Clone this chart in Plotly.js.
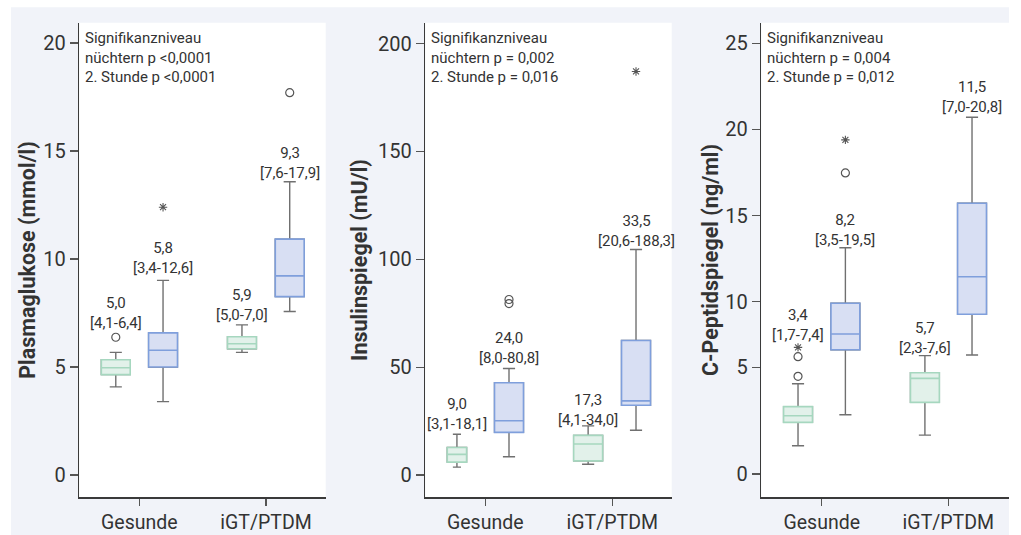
<!DOCTYPE html>
<html>
<head>
<meta charset="utf-8">
<script src="https://cdn.plot.ly/plotly-3.0.1.min.js"></script>
<style>
html, body { margin: 0; padding: 0; background: #ffffff; }
#chart { width: 1021px; height: 535px; }
</style>
</head>
<body>
<div id="chart"></div>
<script>
// ---------- DATA ----------
const categories = ['Gesunde', 'iGT/PTDM'];

// Plasmaglukose (mmol/l) – nüchtern
const glucoseFastingQ1 = [4.65, 5.85];
const glucoseFastingMedian = [4.97, 6.08];
const glucoseFastingQ3 = [5.34, 6.40];
const glucoseFastingLow = [4.08, 5.68];
const glucoseFastingHigh = [5.68, 6.95];
const glucoseFastingCircles = [[6.38], []];
const glucoseFastingStars = [[], []];
// Plasmaglukose – 2. Stunde
const glucose2hQ1 = [5.00, 8.26];
const glucose2hMedian = [5.78, 9.22];
const glucose2hQ3 = [6.58, 10.92];
const glucose2hLow = [3.40, 7.57];
const glucose2hHigh = [9.01, 13.58];
const glucose2hCircles = [[], [17.7]];
const glucose2hStars = [[12.4], []];
// reported median [min-max]
const glucoseFastingRepMedian = [5.0, 5.9];
const glucoseFastingRepMin = [4.1, 5.0];
const glucoseFastingRepMax = [6.4, 7.0];
const glucose2hRepMedian = [5.8, 9.3];
const glucose2hRepMin = [3.4, 7.6];
const glucose2hRepMax = [12.6, 17.9];

// Insulinspiegel (mU/l) – nüchtern
const insulinFastingQ1 = [6.0, 6.6];
const insulinFastingMedian = [9.6, 14.4];
const insulinFastingQ3 = [12.8, 18.4];
const insulinFastingLow = [3.7, 5.0];
const insulinFastingHigh = [18.9, 22.8];
const insulinFastingCircles = [[], []];
const insulinFastingStars = [[], []];
// Insulinspiegel – 2. Stunde
const insulin2hQ1 = [19.8, 32.4];
const insulin2hMedian = [25.2, 34.4];
const insulin2hQ3 = [42.8, 62.4];
const insulin2hLow = [8.5, 20.8];
const insulin2hHigh = [49.4, 104.6];
const insulin2hCircles = [[79.5, 81.4], []];
const insulin2hStars = [[], [187.1]];
const insulinFastingRepMedian = [9.0, 17.3];
const insulinFastingRepMin = [3.1, 4.1];
const insulinFastingRepMax = [18.1, 34.0];
const insulin2hRepMedian = [24.0, 33.5];
const insulin2hRepMin = [8.0, 20.6];
const insulin2hRepMax = [80.8, 188.3];

// C-Peptidspiegel (ng/ml) – nüchtern
const cpepFastingQ1 = [3.00, 4.16];
const cpepFastingMedian = [3.38, 5.55];
const cpepFastingQ3 = [3.91, 5.88];
const cpepFastingLow = [1.64, 2.26];
const cpepFastingHigh = [5.24, 6.87];
const cpepFastingCircles = [[5.67, 6.81], []];
const cpepFastingStars = [[7.35], []];
// C-Peptidspiegel – 2. Stunde
const cpep2hQ1 = [7.21, 9.27];
const cpep2hMedian = [8.13, 11.45];
const cpep2hQ3 = [9.91, 15.71];
const cpep2hLow = [3.44, 6.91];
const cpep2hHigh = [13.13, 20.70];
const cpep2hCircles = [[17.47], []];
const cpep2hStars = [[19.39], []];
const cpepFastingRepMedian = [3.4, 5.7];
const cpepFastingRepMin = [1.7, 2.3];
const cpepFastingRepMax = [7.4, 7.6];
const cpep2hRepMedian = [8.2, 11.5];
const cpep2hRepMin = [3.5, 7.0];
const cpep2hRepMax = [19.5, 20.8];

// Axis tick labels
const glucoseTicks = [0, 5, 10, 15, 20];
const insulinTicks = [0, 50, 100, 150, 200];
const cpepTickText = ['0', '5', '10', '15', '20', '25'];

// Significance texts
const sigGlucose = ['Signifikanzniveau', 'nüchtern p <0,0001', '2. Stunde p <0,0001'];
const sigInsulin = ['Signifikanzniveau', 'nüchtern p = 0,002', '2. Stunde p = 0,016'];
const sigCpep = ['Signifikanzniveau', 'nüchtern p = 0,004', '2. Stunde p = 0,012'];

const yTitles = ['Plasmaglukose (mmol/l)', 'Insulinspiegel (mU/l)', 'C-Peptidspiegel (ng/ml)'];

// ---------- STYLE / PLACEMENT ----------
const FONT = 'Roboto, "Noto Sans", sans-serif';
const TXT = '#333333';
const GREEN_LINE = '#a6d7bf', GREEN_FILL = '#e2f1ea';
const BLUE_LINE = '#7f9fdc', BLUE_FILL = '#d8dff3';
const WHISKER = '#707070';
const OUTLIER = '#555555';

const fmt = v => v.toFixed(1).replace('.', ',');

const panels = [
  {
    n: '', xDomain: [79.3, 325.7], xRange: [-0.474, 1.471], yRange: [-1.03, 20.94],
    tickvals: glucoseTicks, ticktext: glucoseTicks.map(String), sig: sigGlucose, title: yTitles[0],
    fasting: { q1: glucoseFastingQ1, med: glucoseFastingMedian, q3: glucoseFastingQ3, lo: glucoseFastingLow, hi: glucoseFastingHigh,
               circ: glucoseFastingCircles, star: glucoseFastingStars, rm: glucoseFastingRepMedian, rmin: glucoseFastingRepMin, rmax: glucoseFastingRepMax },
    hour: { q1: glucose2hQ1, med: glucose2hMedian, q3: glucose2hQ3, lo: glucose2hLow, hi: glucose2hHigh,
            circ: glucose2hCircles, star: glucose2hStars, rm: glucose2hRepMedian, rmin: glucose2hRepMin, rmax: glucose2hRepMax },
    labelYFasting: [7.50, 7.88], labelYHour: [10.07, 14.46],
    fastOffset: [-0.186, -0.19], fastWidth: [0.228, 0.228], standoff: 2
  },
  {
    n: '2', xDomain: [425.3, 671.7], xRange: [-0.472, 1.468], yRange: [-10.3, 209.7],
    tickvals: insulinTicks, ticktext: insulinTicks.map(String), sig: sigInsulin, title: yTitles[1],
    fasting: { q1: insulinFastingQ1, med: insulinFastingMedian, q3: insulinFastingQ3, lo: insulinFastingLow, hi: insulinFastingHigh,
               circ: insulinFastingCircles, star: insulinFastingStars, rm: insulinFastingRepMedian, rmin: insulinFastingRepMin, rmax: insulinFastingRepMax },
    hour: { q1: insulin2hQ1, med: insulin2hMedian, q3: insulin2hQ3, lo: insulin2hLow, hi: insulin2hHigh,
            circ: insulin2hCircles, star: insulin2hStars, rm: insulin2hRepMedian, rmin: insulin2hRepMin, rmax: insulin2hRepMax },
    labelYFasting: [28.2, 30.3], labelYHour: [58.7, 113.0],
    fastOffset: [-0.223, -0.19], fastWidth: [0.152, 0.228], standoff: 4
  },
  {
    n: '3', xDomain: [761.3, 1009], xRange: [-0.477, 1.479], yRange: [-1.35, 26.19],
    tickvals: [0, 6.19, 10, 15, 20, 25], ticktext: cpepTickText, sig: sigCpep, title: yTitles[2],
    fasting: { q1: cpepFastingQ1, med: cpepFastingMedian, q3: cpepFastingQ3, lo: cpepFastingLow, hi: cpepFastingHigh,
               circ: cpepFastingCircles, star: cpepFastingStars, rm: cpepFastingRepMedian, rmin: cpepFastingRepMin, rmax: cpepFastingRepMax },
    hour: { q1: cpep2hQ1, med: cpep2hMedian, q3: cpep2hQ3, lo: cpep2hLow, hi: cpep2hHigh,
            circ: cpep2hCircles, star: cpep2hStars, rm: cpep2hRepMedian, rmin: cpep2hRepMin, rmax: cpep2hRepMax },
    labelYFasting: [8.63, 7.88], labelYHour: [14.18, 21.86],
    fastOffset: [-0.187, -0.185], fastWidth: [0.228, 0.228], standoff: 1
  }
];

const W = 1021, H = 535;
const yDomainPx = [22.7, 497.3];
const yDomain = [(H - yDomainPx[1]) / H, (H - yDomainPx[0]) / H];

const traces = [];
const annotations = [];
const shapes = [
  { type: 'rect', xref: 'paper', yref: 'paper', x0: 11 / W, x1: 1009 / W, y0: 0, y1: (H - 7.3) / H,
    fillcolor: '#f1f3f9', line: { width: 0 }, layer: 'below' }
];
const layout = {
  width: W, height: H,
  margin: { l: 0, r: 0, t: 0, b: 0, pad: 0 },
  paper_bgcolor: '#ffffff', plot_bgcolor: '#ffffff',
  font: { family: FONT, color: TXT, size: 15 },
  showlegend: false,
  hovermode: false
};

function addBox(p, pos, width, s, i, lineC, fillC) {
  const xa = 'x' + p.n, ya = 'y' + p.n;
  // whiskers (grey)
  traces.push({
    type: 'box', xaxis: xa, yaxis: ya, x: [pos],
    q1: [s.q1[i]], median: [s.med[i]], q3: [s.q3[i]],
    lowerfence: [s.lo[i]], upperfence: [s.hi[i]],
    width: width, whiskerwidth: 0.42, boxpoints: false,
    line: { color: WHISKER, width: 1.4 }, fillcolor: fillC, hoverinfo: 'skip'
  });
  // coloured box with median
  traces.push({
    type: 'box', xaxis: xa, yaxis: ya, x: [pos],
    q1: [s.q1[i]], median: [s.med[i]], q3: [s.q3[i]],
    lowerfence: [s.q1[i]], upperfence: [s.q3[i]],
    width: width, whiskerwidth: 0, boxpoints: false,
    line: { color: lineC, width: 1.6 }, fillcolor: fillC, hoverinfo: 'skip'
  });
  // outliers
  if (s.circ[i].length) {
    traces.push({
      type: 'scatter', mode: 'markers', xaxis: xa, yaxis: ya,
      x: s.circ[i].map(() => pos), y: s.circ[i],
      marker: { symbol: 'circle-open', size: 8, color: OUTLIER, line: { width: 1.2, color: OUTLIER } },
      hoverinfo: 'skip'
    });
  }
  if (s.star[i].length) {
    traces.push({
      type: 'scatter', mode: 'markers', xaxis: xa, yaxis: ya,
      x: s.star[i].map(() => pos), y: s.star[i],
      marker: { symbol: 'asterisk-open', size: 7, color: OUTLIER, line: { width: 1.1, color: OUTLIER } },
      hoverinfo: 'skip'
    });
  }
}

panels.forEach((p, k) => {
  const xa = 'x' + p.n, ya = 'y' + p.n;
  const xKey = 'xaxis' + p.n, yKey = 'yaxis' + p.n;

  categories.forEach((c, i) => {
    const fPos = i + p.fastOffset[i];
    const hPos = i + 0.187;
    addBox(p, fPos, p.fastWidth[i], p.fasting, i, GREEN_LINE, GREEN_FILL);
    addBox(p, hPos, 0.228, p.hour, i, BLUE_LINE, BLUE_FILL);

    annotations.push({
      xref: xa, yref: ya, x: fPos, y: p.labelYFasting[i],
      text: fmt(p.fasting.rm[i]) + '<br>[' + fmt(p.fasting.rmin[i]) + '-' + fmt(p.fasting.rmax[i]) + ']',
      showarrow: false, xanchor: 'center', yanchor: 'middle', align: 'center',
      font: { family: FONT, size: 15, color: TXT }
    });
    annotations.push({
      xref: xa, yref: ya, x: hPos, y: p.labelYHour[i],
      text: fmt(p.hour.rm[i]) + '<br>[' + fmt(p.hour.rmin[i]) + '-' + fmt(p.hour.rmax[i]) + ']',
      showarrow: false, xanchor: 'center', yanchor: 'middle', align: 'center',
      font: { family: FONT, size: 15, color: TXT }
    });
  });

  annotations.push({
    xref: xa + ' domain', yref: ya + ' domain', x: 0, y: 1, xshift: 4, yshift: -4,
    xanchor: 'left', yanchor: 'top', align: 'left', showarrow: false,
    text: p.sig.join('<br>'), font: { family: FONT, size: 15, color: TXT }
  });

  shapes.push({
    type: 'rect', xref: xa + ' domain', yref: ya + ' domain', x0: 0, x1: 1, y0: 0, y1: 1,
    fillcolor: '#ffffff', line: { width: 0 }, layer: 'below'
  });

  layout[xKey] = {
    domain: [p.xDomain[0] / W, p.xDomain[1] / W], anchor: ya, type: 'linear',
    range: p.xRange, tickvals: [0, 1], ticktext: categories,
    showline: true, linecolor: '#3a3a3a', linewidth: 1.5,
    ticks: 'outside', ticklen: 7, tickwidth: 1.3, tickcolor: '#555555',
    showgrid: false, zeroline: false, fixedrange: true,
    tickfont: { family: FONT, size: 19.5, color: TXT }
  };
  layout[yKey] = {
    domain: yDomain, anchor: xa, type: 'linear',
    range: p.yRange, tickvals: p.tickvals, ticktext: p.ticktext,
    showline: true, linecolor: '#3a3a3a', linewidth: 1.5,
    ticks: 'outside', ticklen: 8, tickwidth: 1.3, tickcolor: '#555555',
    showgrid: false, zeroline: false, fixedrange: true,
    tickfont: { family: FONT, size: 20, color: TXT },
    title: { text: p.title, standoff: p.standoff, font: { family: FONT, size: 21.5, color: TXT, weight: 700 } }
  };
});

layout.annotations = annotations;
layout.shapes = shapes;

Plotly.newPlot('chart', traces, layout, { displayModeBar: false, staticPlot: true });
</script>
</body>
</html>
